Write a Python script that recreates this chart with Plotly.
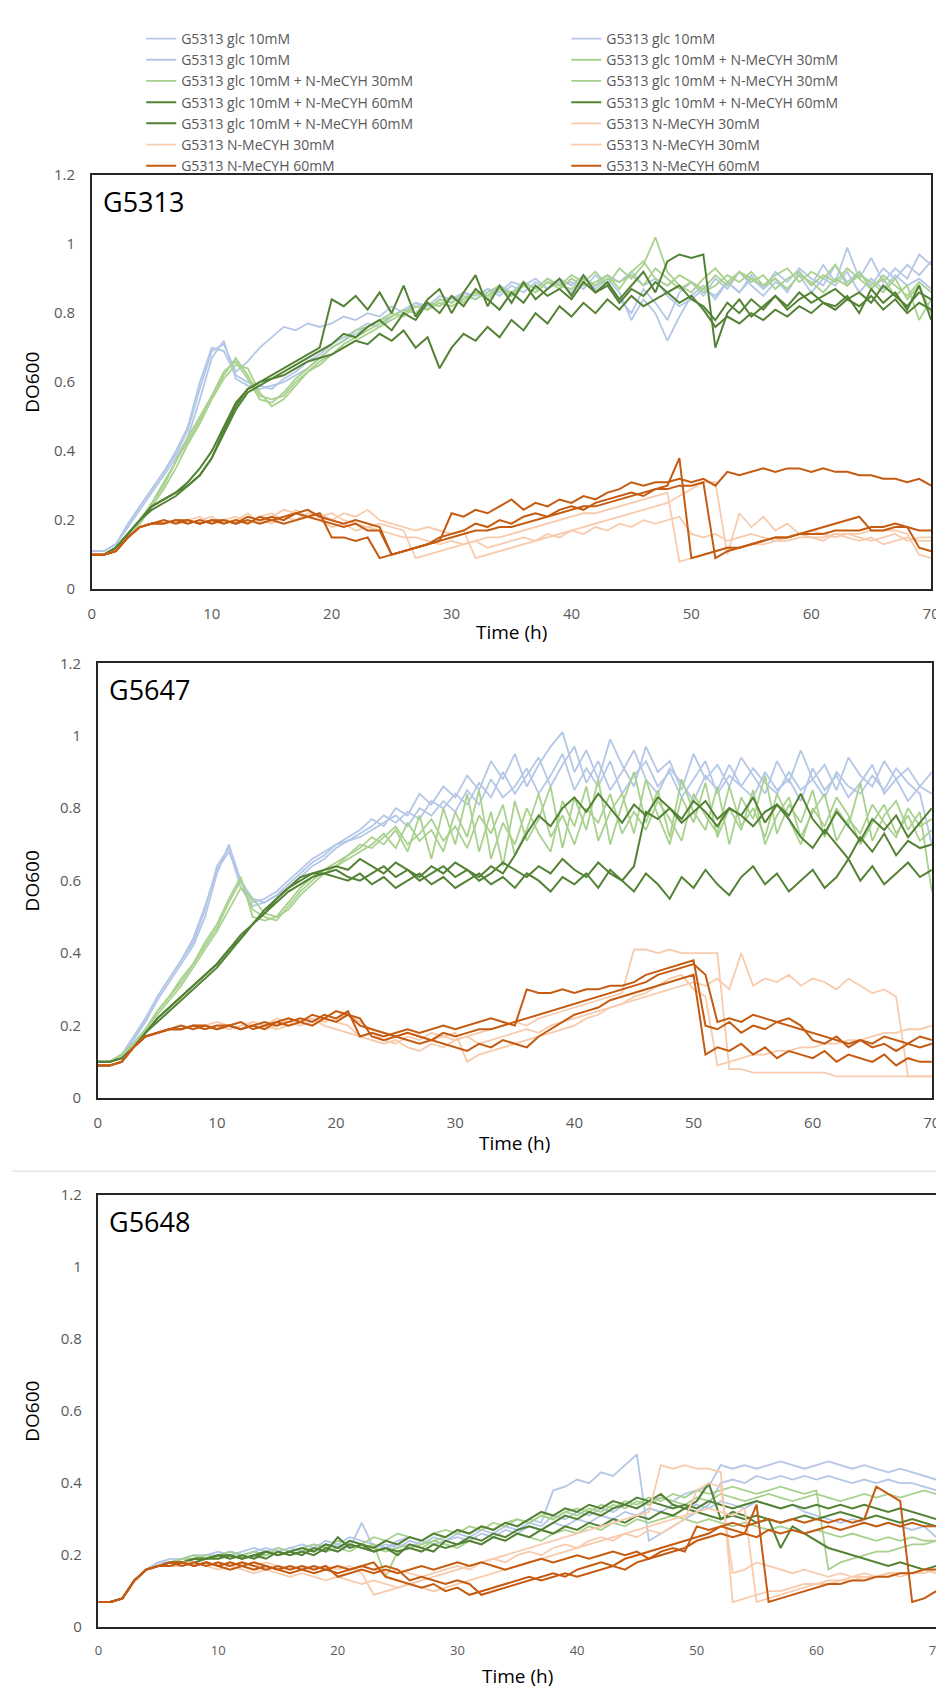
import plotly.graph_objects as go

TIME_H = list(range(71))

# ---------------- G5313 panel ----------------
G5313_GLC_1 = [0.11,0.11,0.13,0.19,0.24,0.29,0.34,0.39,0.46,0.58,
0.69,0.71,0.63,0.66,0.70,0.73,0.76,0.75,0.77,0.76,
0.77,0.79,0.78,0.80,0.79,0.82,0.80,0.83,0.81,0.84,
0.83,0.86,0.84,0.87,0.85,0.88,0.86,0.89,0.87,0.90,
0.88,0.91,0.87,0.90,0.86,0.78,0.84,0.80,0.72,0.79,
0.85,0.88,0.84,0.89,0.86,0.91,0.87,0.90,0.86,0.92,
0.88,0.94,0.89,0.99,0.90,0.96,0.89,0.93,0.90,0.97,
0.94]
G5313_GLC_2 = [0.11,0.11,0.13,0.18,0.23,0.28,0.33,0.38,0.44,0.55,
0.67,0.72,0.61,0.59,0.58,0.59,0.60,0.62,0.64,0.67,
0.70,0.72,0.74,0.76,0.78,0.79,0.81,0.80,0.83,0.82,
0.85,0.84,0.86,0.85,0.88,0.86,0.89,0.87,0.90,0.88,
0.89,0.87,0.91,0.88,0.84,0.80,0.87,0.83,0.78,0.86,
0.89,0.85,0.90,0.87,0.92,0.88,0.85,0.89,0.87,0.91,
0.86,0.90,0.88,0.92,0.86,0.90,0.87,0.91,0.88,0.90,
0.87]
G5313_GLC_3 = [0.11,0.11,0.13,0.18,0.24,0.29,0.34,0.40,0.47,0.60,
0.70,0.69,0.62,0.60,0.59,0.58,0.61,0.63,0.66,0.68,
0.71,0.73,0.75,0.77,0.76,0.79,0.81,0.83,0.82,0.85,
0.84,0.86,0.85,0.87,0.86,0.89,0.88,0.90,0.87,0.89,
0.86,0.90,0.88,0.91,0.89,0.92,0.88,0.90,0.85,0.82,
0.84,0.87,0.85,0.89,0.86,0.90,0.87,0.92,0.89,0.93,
0.90,0.88,0.94,0.89,0.92,0.88,0.93,0.90,0.94,0.91,
0.95]
G5313_M30_1 = [0.10,0.10,0.12,0.16,0.20,0.25,0.30,0.37,0.44,0.50,
0.56,0.63,0.66,0.61,0.55,0.54,0.57,0.61,0.64,0.67,
0.70,0.72,0.75,0.76,0.78,0.80,0.79,0.82,0.81,0.84,
0.83,0.85,0.84,0.86,0.88,0.85,0.89,0.87,0.90,0.88,
0.91,0.89,0.92,0.88,0.93,0.90,0.94,1.02,0.92,0.88,
0.86,0.90,0.93,0.89,0.92,0.90,0.88,0.91,0.93,0.89,
0.92,0.90,0.94,0.88,0.91,0.89,0.86,0.90,0.84,0.88,
0.80]
G5313_M30_2 = [0.10,0.10,0.12,0.15,0.19,0.24,0.29,0.35,0.42,0.48,
0.55,0.61,0.65,0.64,0.57,0.53,0.55,0.59,0.63,0.66,
0.68,0.71,0.73,0.75,0.77,0.79,0.81,0.80,0.83,0.82,
0.85,0.83,0.86,0.84,0.87,0.86,0.88,0.86,0.89,0.87,
0.90,0.88,0.89,0.91,0.87,0.92,0.95,0.90,0.88,0.91,
0.89,0.87,0.91,0.88,0.92,0.89,0.91,0.87,0.90,0.92,
0.88,0.91,0.89,0.93,0.90,0.87,0.91,0.88,0.85,0.89,
0.86]
G5313_M30_3 = [0.10,0.10,0.12,0.16,0.20,0.25,0.31,0.37,0.43,0.49,
0.56,0.62,0.67,0.62,0.56,0.55,0.56,0.60,0.63,0.65,
0.68,0.70,0.72,0.74,0.76,0.78,0.80,0.82,0.81,0.83,
0.82,0.84,0.86,0.85,0.87,0.85,0.88,0.86,0.89,0.88,
0.87,0.90,0.88,0.90,0.89,0.91,0.88,0.93,0.90,0.87,
0.89,0.86,0.88,0.91,0.89,0.92,0.88,0.90,0.87,0.91,
0.89,0.86,0.90,0.88,0.92,0.87,0.90,0.85,0.88,0.78,
0.84]
G5313_M60_1 = [0.10,0.10,0.12,0.16,0.20,0.24,0.26,0.28,0.31,0.35,
0.40,0.47,0.54,0.58,0.60,0.62,0.64,0.66,0.68,0.70,
0.84,0.82,0.85,0.81,0.86,0.80,0.88,0.79,0.84,0.87,
0.80,0.86,0.91,0.82,0.88,0.83,0.89,0.84,0.87,0.90,
0.85,0.91,0.86,0.89,0.84,0.88,0.92,0.86,0.95,0.97,
0.96,0.97,0.70,0.80,0.84,0.79,0.82,0.85,0.81,0.84,
0.86,0.83,0.82,0.85,0.80,0.87,0.83,0.86,0.81,0.88,
0.78]
G5313_M60_2 = [0.10,0.10,0.12,0.16,0.20,0.24,0.26,0.28,0.30,0.33,
0.38,0.45,0.52,0.57,0.59,0.61,0.63,0.65,0.67,0.69,
0.71,0.74,0.73,0.76,0.78,0.75,0.80,0.78,0.83,0.80,
0.85,0.82,0.87,0.84,0.81,0.86,0.83,0.88,0.85,0.87,
0.84,0.89,0.86,0.88,0.83,0.87,0.85,0.89,0.86,0.88,
0.84,0.82,0.78,0.83,0.80,0.84,0.81,0.85,0.82,0.86,
0.83,0.85,0.87,0.84,0.86,0.83,0.88,0.85,0.82,0.86,
0.84]
G5313_M60_3 = [0.10,0.10,0.12,0.16,0.20,0.23,0.25,0.27,0.30,0.33,
0.38,0.46,0.53,0.58,0.60,0.61,0.62,0.64,0.66,0.67,
0.68,0.70,0.72,0.71,0.74,0.72,0.75,0.70,0.73,0.64,
0.70,0.74,0.72,0.76,0.73,0.78,0.75,0.80,0.77,0.82,
0.79,0.83,0.80,0.84,0.81,0.85,0.82,0.84,0.86,0.83,
0.85,0.81,0.76,0.79,0.77,0.80,0.78,0.81,0.79,0.82,
0.80,0.83,0.81,0.84,0.82,0.85,0.81,0.84,0.80,0.83,
0.81]
G5313_N30_1 = [0.10,0.10,0.11,0.15,0.18,0.19,0.19,0.20,0.20,0.19,
0.20,0.19,0.20,0.21,0.20,0.19,0.21,0.20,0.22,0.21,
0.22,0.20,0.19,0.18,0.19,0.18,0.17,0.09,0.10,0.11,
0.12,0.13,0.14,0.15,0.15,0.16,0.17,0.18,0.19,0.20,
0.21,0.22,0.22,0.23,0.24,0.25,0.26,0.27,0.28,0.08,
0.09,0.10,0.11,0.12,0.12,0.13,0.13,0.14,0.14,0.15,
0.15,0.15,0.16,0.16,0.16,0.17,0.17,0.17,0.16,0.10,
0.09]
G5313_N30_2 = [0.10,0.10,0.11,0.15,0.18,0.19,0.20,0.19,0.20,0.21,
0.19,0.20,0.21,0.19,0.21,0.22,0.20,0.23,0.21,0.22,
0.20,0.22,0.21,0.23,0.20,0.19,0.18,0.17,0.18,0.17,
0.16,0.17,0.09,0.10,0.11,0.12,0.13,0.14,0.15,0.16,
0.17,0.18,0.19,0.20,0.21,0.22,0.23,0.24,0.25,0.27,
0.29,0.31,0.31,0.10,0.22,0.18,0.21,0.17,0.19,0.16,
0.17,0.16,0.15,0.16,0.15,0.14,0.15,0.16,0.14,0.15,
0.15]
G5313_N30_3 = [0.10,0.10,0.11,0.15,0.18,0.19,0.19,0.20,0.19,0.20,
0.21,0.19,0.20,0.22,0.19,0.21,0.23,0.22,0.21,0.20,
0.18,0.19,0.17,0.18,0.17,0.16,0.15,0.15,0.14,0.13,
0.14,0.13,0.14,0.12,0.13,0.14,0.15,0.14,0.16,0.15,
0.17,0.16,0.18,0.17,0.19,0.18,0.20,0.19,0.20,0.21,
0.16,0.15,0.16,0.14,0.15,0.16,0.15,0.14,0.15,0.16,
0.15,0.14,0.16,0.15,0.14,0.15,0.13,0.14,0.15,0.14,
0.14]
G5313_N60_1 = [0.10,0.10,0.11,0.15,0.18,0.19,0.19,0.20,0.19,0.20,
0.19,0.20,0.19,0.21,0.20,0.21,0.20,0.22,0.21,0.22,
0.15,0.15,0.14,0.15,0.09,0.10,0.11,0.12,0.13,0.14,
0.15,0.16,0.17,0.17,0.18,0.18,0.19,0.20,0.21,0.22,
0.23,0.24,0.24,0.25,0.26,0.27,0.28,0.29,0.30,0.38,
0.09,0.10,0.11,0.12,0.12,0.13,0.14,0.15,0.15,0.16,
0.16,0.16,0.17,0.17,0.17,0.18,0.18,0.19,0.18,0.17,
0.17]
G5313_N60_2 = [0.10,0.10,0.11,0.15,0.18,0.19,0.20,0.19,0.20,0.19,
0.20,0.19,0.20,0.19,0.21,0.20,0.21,0.22,0.23,0.21,
0.20,0.19,0.20,0.19,0.18,0.10,0.11,0.12,0.13,0.14,
0.22,0.21,0.23,0.22,0.24,0.26,0.23,0.25,0.24,0.26,
0.25,0.27,0.26,0.28,0.29,0.31,0.30,0.31,0.31,0.32,
0.31,0.32,0.30,0.34,0.33,0.34,0.35,0.34,0.35,0.35,
0.34,0.35,0.34,0.34,0.33,0.33,0.32,0.32,0.31,0.32,
0.30]
G5313_N60_3 = [0.10,0.10,0.11,0.15,0.18,0.19,0.19,0.20,0.20,0.19,
0.20,0.20,0.19,0.20,0.19,0.20,0.19,0.20,0.21,0.20,
0.19,0.18,0.19,0.17,0.17,0.10,0.11,0.12,0.13,0.15,
0.16,0.17,0.19,0.18,0.20,0.19,0.21,0.22,0.21,0.23,
0.24,0.23,0.25,0.26,0.27,0.28,0.27,0.29,0.29,0.30,
0.30,0.31,0.09,0.11,0.12,0.13,0.14,0.15,0.15,0.16,
0.17,0.18,0.19,0.20,0.21,0.17,0.17,0.18,0.18,0.12,
0.11]

# ---------------- G5647 panel ----------------
G5647_GLC_1 = [0.10,0.10,0.12,0.16,0.21,0.27,0.32,0.37,0.42,0.50,
0.62,0.70,0.60,0.54,0.55,0.57,0.60,0.63,0.66,0.68,
0.70,0.72,0.74,0.77,0.75,0.80,0.78,0.84,0.81,0.86,
0.83,0.89,0.85,0.93,0.88,0.95,0.86,0.92,0.97,1.01,
0.90,0.96,0.88,0.99,0.92,0.86,0.97,0.90,0.93,0.85,
0.95,0.88,0.92,0.86,0.94,0.89,0.84,0.93,0.87,0.96,
0.88,0.92,0.85,0.94,0.89,0.86,0.93,0.88,0.91,0.86,
0.90]
G5647_GLC_2 = [0.10,0.10,0.12,0.16,0.22,0.28,0.33,0.38,0.43,0.52,
0.64,0.69,0.58,0.53,0.54,0.56,0.59,0.62,0.65,0.67,
0.70,0.71,0.73,0.75,0.78,0.76,0.79,0.77,0.82,0.80,
0.84,0.81,0.87,0.83,0.90,0.84,0.89,0.94,0.86,0.92,
0.97,0.87,0.93,0.85,0.90,0.96,0.88,0.84,0.91,0.87,
0.82,0.89,0.85,0.92,0.86,0.83,0.90,0.85,0.88,0.82,
0.91,0.85,0.89,0.83,0.87,0.92,0.84,0.88,0.82,0.86,
0.84]
G5647_GLC_3 = [0.10,0.10,0.12,0.17,0.22,0.28,0.33,0.38,0.44,0.53,
0.63,0.68,0.60,0.55,0.54,0.56,0.58,0.61,0.64,0.66,
0.69,0.71,0.72,0.74,0.76,0.78,0.75,0.80,0.78,0.82,
0.79,0.85,0.81,0.88,0.83,0.86,0.91,0.84,0.89,0.95,
0.85,0.91,0.86,0.93,0.84,0.89,0.93,0.86,0.90,0.83,
0.88,0.93,0.84,0.89,0.86,0.91,0.87,0.84,0.90,0.85,
0.88,0.83,0.90,0.86,0.84,0.89,0.85,0.91,0.87,0.84,
0.70]
G5647_M30_1 = [0.10,0.10,0.12,0.15,0.19,0.24,0.28,0.32,0.37,0.42,
0.47,0.54,0.60,0.52,0.50,0.49,0.53,0.57,0.60,0.63,
0.65,0.67,0.69,0.72,0.70,0.74,0.68,0.78,0.66,0.80,
0.70,0.84,0.68,0.79,0.64,0.82,0.71,0.77,0.86,0.69,
0.83,0.74,0.88,0.70,0.81,0.90,0.76,0.85,0.72,0.88,
0.79,0.74,0.86,0.70,0.83,0.77,0.89,0.73,0.81,0.76,
0.85,0.72,0.80,0.75,0.87,0.71,0.78,0.82,0.74,0.79,
0.57]
G5647_M30_2 = [0.10,0.10,0.12,0.15,0.19,0.23,0.27,0.31,0.36,0.41,
0.46,0.52,0.58,0.55,0.51,0.50,0.52,0.56,0.59,0.62,
0.64,0.66,0.68,0.70,0.73,0.69,0.76,0.71,0.74,0.68,
0.79,0.72,0.85,0.66,0.76,0.70,0.80,0.73,0.68,0.82,
0.75,0.86,0.71,0.79,0.84,0.73,0.88,0.78,0.70,0.83,
0.76,0.87,0.72,0.80,0.74,0.85,0.70,0.78,0.83,0.72,
0.79,0.84,0.71,0.77,0.73,0.81,0.76,0.72,0.80,0.75,
0.77]
G5647_M30_3 = [0.10,0.10,0.12,0.15,0.19,0.24,0.28,0.33,0.37,0.43,
0.48,0.55,0.61,0.50,0.49,0.50,0.54,0.58,0.61,0.63,
0.64,0.67,0.70,0.69,0.72,0.75,0.70,0.73,0.77,0.71,
0.75,0.69,0.78,0.73,0.81,0.67,0.74,0.84,0.72,0.78,
0.70,0.80,0.76,0.84,0.73,0.79,0.74,0.82,0.77,0.71,
0.84,0.78,0.73,0.86,0.75,0.80,0.72,0.84,0.77,0.70,
0.80,0.75,0.83,0.78,0.70,0.76,0.81,0.73,0.78,0.71,
0.74]
G5647_M60_1 = [0.10,0.10,0.11,0.14,0.18,0.22,0.25,0.28,0.31,0.34,
0.37,0.41,0.45,0.48,0.51,0.55,0.58,0.61,0.62,0.63,
0.64,0.63,0.66,0.64,0.62,0.65,0.63,0.61,0.64,0.62,
0.65,0.63,0.61,0.64,0.62,0.67,0.73,0.78,0.75,0.80,
0.83,0.79,0.84,0.80,0.76,0.81,0.78,0.83,0.80,0.77,
0.82,0.79,0.75,0.80,0.78,0.83,0.76,0.81,0.78,0.84,
0.77,0.73,0.79,0.75,0.71,0.77,0.74,0.78,0.72,0.76,
0.80]
G5647_M60_2 = [0.10,0.10,0.11,0.14,0.18,0.22,0.25,0.28,0.31,0.34,
0.37,0.41,0.44,0.48,0.52,0.55,0.58,0.60,0.62,0.62,
0.63,0.61,0.60,0.62,0.64,0.61,0.63,0.60,0.62,0.64,
0.61,0.63,0.60,0.62,0.65,0.63,0.61,0.64,0.62,0.66,
0.63,0.61,0.65,0.62,0.60,0.64,0.79,0.77,0.80,0.76,
0.79,0.82,0.77,0.80,0.78,0.75,0.79,0.81,0.77,0.72,
0.69,0.74,0.70,0.66,0.72,0.68,0.73,0.67,0.71,0.69,
0.70]
G5647_M60_3 = [0.10,0.10,0.11,0.14,0.18,0.21,0.24,0.27,0.30,0.33,
0.36,0.40,0.44,0.48,0.51,0.54,0.57,0.59,0.61,0.62,
0.61,0.60,0.62,0.59,0.61,0.58,0.60,0.62,0.59,0.61,
0.58,0.60,0.62,0.59,0.61,0.58,0.62,0.60,0.57,0.61,
0.59,0.62,0.58,0.63,0.60,0.57,0.62,0.59,0.55,0.61,
0.58,0.63,0.59,0.56,0.61,0.64,0.59,0.62,0.57,0.60,
0.63,0.58,0.61,0.66,0.60,0.64,0.59,0.62,0.65,0.61,
0.63]
G5647_N30_1 = [0.09,0.09,0.10,0.14,0.17,0.18,0.19,0.19,0.20,0.19,
0.20,0.19,0.20,0.21,0.20,0.19,0.20,0.21,0.22,0.21,
0.22,0.23,0.21,0.19,0.18,0.17,0.18,0.17,0.16,0.17,
0.16,0.17,0.18,0.19,0.20,0.21,0.20,0.22,0.23,0.24,
0.25,0.26,0.27,0.28,0.29,0.41,0.41,0.40,0.41,0.40,
0.40,0.40,0.40,0.08,0.08,0.07,0.07,0.07,0.07,0.07,
0.07,0.07,0.06,0.06,0.06,0.06,0.06,0.06,0.06,0.06,
0.06]
G5647_N30_2 = [0.09,0.09,0.10,0.14,0.17,0.18,0.19,0.20,0.19,0.20,
0.21,0.20,0.19,0.21,0.20,0.22,0.21,0.20,0.21,0.22,
0.21,0.20,0.17,0.18,0.16,0.15,0.17,0.16,0.18,0.17,
0.18,0.10,0.12,0.13,0.14,0.15,0.16,0.17,0.18,0.19,
0.20,0.22,0.23,0.25,0.26,0.27,0.28,0.29,0.30,0.31,
0.32,0.31,0.33,0.30,0.40,0.31,0.33,0.32,0.34,0.31,
0.33,0.32,0.30,0.33,0.31,0.29,0.30,0.28,0.06,0.06,
0.06]
G5647_N30_3 = [0.09,0.09,0.10,0.14,0.17,0.18,0.19,0.19,0.20,0.20,
0.19,0.20,0.21,0.20,0.19,0.20,0.22,0.21,0.22,0.20,
0.19,0.18,0.17,0.16,0.15,0.16,0.14,0.13,0.15,0.14,
0.16,0.17,0.15,0.16,0.17,0.18,0.19,0.18,0.20,0.21,
0.22,0.23,0.24,0.25,0.26,0.28,0.29,0.31,0.33,0.34,
0.30,0.28,0.09,0.10,0.11,0.12,0.12,0.13,0.13,0.14,
0.14,0.15,0.15,0.16,0.16,0.17,0.18,0.18,0.19,0.19,
0.20]
G5647_N60_1 = [0.09,0.09,0.10,0.14,0.17,0.18,0.19,0.19,0.20,0.19,
0.20,0.20,0.19,0.20,0.21,0.20,0.21,0.22,0.21,0.23,
0.22,0.24,0.17,0.18,0.17,0.18,0.19,0.18,0.19,0.20,
0.19,0.20,0.21,0.22,0.21,0.20,0.30,0.29,0.29,0.30,
0.29,0.30,0.30,0.31,0.31,0.32,0.34,0.35,0.36,0.37,
0.38,0.20,0.19,0.21,0.18,0.20,0.19,0.21,0.20,0.19,
0.18,0.17,0.16,0.15,0.16,0.14,0.15,0.13,0.15,0.14,
0.15]
G5647_N60_2 = [0.09,0.09,0.10,0.14,0.17,0.18,0.19,0.20,0.19,0.20,
0.19,0.20,0.21,0.19,0.20,0.21,0.22,0.21,0.23,0.22,
0.24,0.23,0.22,0.17,0.16,0.17,0.18,0.17,0.16,0.18,
0.17,0.18,0.19,0.19,0.20,0.21,0.22,0.23,0.24,0.25,
0.26,0.27,0.28,0.29,0.30,0.31,0.32,0.34,0.35,0.36,
0.37,0.34,0.21,0.22,0.21,0.23,0.22,0.21,0.22,0.20,
0.16,0.15,0.17,0.14,0.16,0.15,0.17,0.16,0.15,0.17,
0.16]
G5647_N60_3 = [0.09,0.09,0.10,0.14,0.17,0.18,0.19,0.19,0.20,0.20,
0.19,0.20,0.19,0.20,0.19,0.21,0.20,0.21,0.20,0.22,
0.21,0.23,0.20,0.19,0.18,0.17,0.16,0.15,0.16,0.15,
0.14,0.13,0.15,0.14,0.16,0.15,0.14,0.17,0.19,0.21,
0.23,0.24,0.25,0.27,0.28,0.29,0.30,0.31,0.32,0.33,
0.34,0.12,0.14,0.13,0.15,0.12,0.14,0.11,0.13,0.12,
0.11,0.13,0.10,0.12,0.11,0.10,0.12,0.09,0.11,0.10,
0.10]

# ---------------- G5648 panel ----------------
G5648_GLC_1 = [0.07,0.07,0.08,0.13,0.16,0.18,0.18,0.19,0.19,0.20,
0.20,0.21,0.20,0.21,0.22,0.21,0.22,0.23,0.22,0.24,
0.23,0.25,0.24,0.23,0.22,0.24,0.25,0.24,0.26,0.25,
0.27,0.26,0.28,0.27,0.29,0.28,0.30,0.29,0.38,0.39,
0.41,0.40,0.43,0.42,0.45,0.48,0.24,0.26,0.28,0.30,
0.32,0.34,0.40,0.41,0.40,0.42,0.41,0.42,0.41,0.42,
0.41,0.42,0.41,0.40,0.41,0.40,0.41,0.40,0.40,0.39,
0.38]
G5648_GLC_2 = [0.07,0.07,0.08,0.13,0.16,0.18,0.19,0.19,0.20,0.20,
0.21,0.20,0.21,0.22,0.21,0.22,0.21,0.22,0.23,0.22,
0.23,0.22,0.29,0.22,0.23,0.22,0.24,0.23,0.25,0.24,
0.26,0.25,0.27,0.26,0.28,0.27,0.29,0.28,0.31,0.30,
0.32,0.31,0.33,0.32,0.34,0.33,0.35,0.36,0.35,0.37,
0.38,0.39,0.45,0.44,0.45,0.44,0.45,0.46,0.45,0.44,
0.45,0.46,0.45,0.44,0.45,0.44,0.43,0.44,0.43,0.42,
0.41]
G5648_GLC_3 = [0.07,0.07,0.08,0.13,0.16,0.18,0.18,0.19,0.20,0.19,
0.20,0.21,0.20,0.21,0.20,0.21,0.22,0.21,0.22,0.23,
0.22,0.23,0.22,0.21,0.22,0.23,0.22,0.24,0.23,0.24,
0.25,0.24,0.26,0.25,0.27,0.26,0.28,0.27,0.29,0.28,
0.30,0.29,0.31,0.30,0.32,0.31,0.33,0.32,0.34,0.33,
0.34,0.33,0.35,0.34,0.33,0.35,0.34,0.33,0.34,0.32,
0.31,0.30,0.29,0.30,0.29,0.28,0.29,0.28,0.27,0.28,
0.25]
G5648_M30_1 = [0.07,0.07,0.08,0.13,0.16,0.17,0.18,0.19,0.19,0.20,
0.19,0.20,0.19,0.20,0.21,0.20,0.21,0.22,0.21,0.23,
0.22,0.24,0.23,0.25,0.24,0.26,0.25,0.24,0.26,0.27,
0.26,0.28,0.27,0.29,0.28,0.30,0.29,0.31,0.30,0.32,
0.31,0.33,0.32,0.34,0.33,0.35,0.34,0.36,0.35,0.34,
0.36,0.35,0.37,0.36,0.35,0.36,0.37,0.36,0.35,0.36,
0.37,0.36,0.35,0.36,0.37,0.36,0.37,0.36,0.37,0.38,
0.37]
G5648_M30_2 = [0.07,0.07,0.08,0.13,0.16,0.17,0.18,0.19,0.20,0.19,
0.20,0.21,0.20,0.21,0.20,0.22,0.21,0.22,0.23,0.22,
0.24,0.23,0.22,0.23,0.14,0.21,0.22,0.23,0.24,0.25,
0.27,0.26,0.28,0.27,0.29,0.30,0.29,0.31,0.30,0.32,
0.33,0.32,0.34,0.33,0.35,0.34,0.36,0.35,0.37,0.36,
0.38,0.37,0.38,0.39,0.38,0.37,0.38,0.39,0.38,0.37,
0.38,0.16,0.18,0.19,0.20,0.21,0.21,0.22,0.23,0.23,
0.24]
G5648_M30_3 = [0.07,0.07,0.08,0.13,0.16,0.17,0.18,0.18,0.19,0.19,
0.20,0.19,0.20,0.19,0.20,0.21,0.20,0.21,0.22,0.21,
0.22,0.21,0.23,0.22,0.21,0.22,0.23,0.22,0.24,0.23,
0.22,0.24,0.23,0.25,0.24,0.26,0.25,0.24,0.26,0.27,
0.26,0.28,0.27,0.29,0.28,0.30,0.29,0.30,0.31,0.30,
0.29,0.30,0.29,0.28,0.29,0.28,0.27,0.28,0.27,0.26,
0.27,0.26,0.25,0.26,0.25,0.24,0.25,0.24,0.25,0.24,
0.24]
G5648_M60_1 = [0.07,0.07,0.08,0.13,0.16,0.17,0.18,0.18,0.19,0.19,
0.20,0.19,0.20,0.19,0.21,0.20,0.21,0.20,0.22,0.21,
0.25,0.22,0.23,0.21,0.22,0.20,0.23,0.22,0.21,0.24,
0.23,0.25,0.24,0.26,0.25,0.27,0.28,0.27,0.29,0.31,
0.30,0.32,0.31,0.33,0.34,0.33,0.35,0.37,0.34,0.33,
0.35,0.40,0.30,0.32,0.31,0.29,0.30,0.22,0.28,0.26,
0.24,0.22,0.21,0.20,0.19,0.18,0.17,0.18,0.17,0.16,
0.17]
G5648_M60_2 = [0.07,0.07,0.08,0.13,0.16,0.17,0.18,0.18,0.19,0.19,
0.20,0.20,0.19,0.20,0.21,0.20,0.21,0.22,0.21,0.23,
0.22,0.24,0.23,0.22,0.24,0.23,0.25,0.24,0.26,0.25,
0.27,0.26,0.28,0.27,0.29,0.28,0.30,0.32,0.31,0.33,
0.32,0.34,0.33,0.35,0.34,0.36,0.35,0.34,0.33,0.34,
0.33,0.35,0.34,0.33,0.34,0.35,0.34,0.33,0.34,0.33,
0.34,0.33,0.34,0.33,0.34,0.33,0.32,0.33,0.32,0.31,
0.30]
G5648_M60_3 = [0.07,0.07,0.08,0.13,0.16,0.17,0.18,0.18,0.18,0.19,
0.19,0.20,0.19,0.20,0.19,0.21,0.20,0.21,0.20,0.22,
0.21,0.23,0.22,0.21,0.22,0.21,0.22,0.21,0.23,0.22,
0.23,0.24,0.23,0.25,0.24,0.26,0.25,0.27,0.26,0.28,
0.27,0.29,0.28,0.30,0.29,0.31,0.30,0.32,0.31,0.33,
0.32,0.31,0.30,0.31,0.30,0.31,0.30,0.29,0.30,0.31,
0.30,0.31,0.32,0.31,0.30,0.31,0.30,0.29,0.30,0.29,
0.28]
G5648_N30_1 = [0.07,0.07,0.08,0.13,0.16,0.17,0.17,0.18,0.18,0.17,
0.18,0.17,0.18,0.17,0.18,0.17,0.16,0.17,0.16,0.17,
0.16,0.17,0.15,0.09,0.10,0.11,0.12,0.13,0.14,0.15,
0.16,0.17,0.18,0.19,0.20,0.21,0.22,0.23,0.24,0.25,
0.26,0.27,0.28,0.29,0.30,0.31,0.32,0.45,0.44,0.45,
0.44,0.44,0.43,0.07,0.08,0.09,0.10,0.10,0.11,0.12,
0.12,0.13,0.13,0.14,0.14,0.14,0.15,0.15,0.15,0.16,
0.15]
G5648_N30_2 = [0.07,0.07,0.08,0.13,0.16,0.17,0.17,0.18,0.17,0.18,
0.17,0.18,0.17,0.16,0.17,0.16,0.17,0.16,0.17,0.16,
0.17,0.16,0.17,0.16,0.15,0.16,0.15,0.14,0.15,0.16,
0.17,0.16,0.18,0.19,0.18,0.20,0.21,0.20,0.22,0.23,
0.22,0.24,0.25,0.24,0.26,0.25,0.27,0.26,0.28,0.30,
0.38,0.40,0.39,0.15,0.16,0.18,0.17,0.16,0.15,0.16,
0.15,0.14,0.15,0.14,0.15,0.14,0.15,0.14,0.15,0.15,
0.16]
G5648_N30_3 = [0.07,0.07,0.08,0.13,0.16,0.17,0.17,0.17,0.18,0.17,
0.16,0.17,0.16,0.15,0.16,0.15,0.14,0.15,0.14,0.13,
0.14,0.13,0.12,0.13,0.12,0.11,0.12,0.11,0.10,0.11,
0.12,0.13,0.14,0.15,0.16,0.17,0.18,0.19,0.20,0.21,
0.22,0.23,0.24,0.25,0.26,0.27,0.28,0.29,0.30,0.31,
0.32,0.33,0.32,0.31,0.33,0.07,0.08,0.09,0.10,0.11,
0.12,0.12,0.13,0.13,0.14,0.14,0.15,0.15,0.15,0.16,
0.15]
G5648_N60_1 = [0.07,0.07,0.08,0.13,0.16,0.17,0.18,0.17,0.18,0.17,
0.18,0.17,0.18,0.17,0.16,0.17,0.16,0.17,0.16,0.17,
0.14,0.15,0.16,0.15,0.16,0.15,0.16,0.17,0.16,0.17,
0.18,0.17,0.18,0.17,0.16,0.17,0.18,0.19,0.18,0.19,
0.20,0.19,0.20,0.21,0.20,0.21,0.19,0.21,0.22,0.21,
0.28,0.27,0.28,0.29,0.28,0.29,0.30,0.29,0.30,0.29,
0.30,0.29,0.30,0.29,0.30,0.39,0.37,0.35,0.07,0.08,
0.10]
G5648_N60_2 = [0.07,0.07,0.08,0.13,0.16,0.17,0.18,0.18,0.17,0.18,
0.17,0.18,0.17,0.18,0.17,0.16,0.17,0.16,0.17,0.16,
0.17,0.16,0.17,0.18,0.14,0.13,0.12,0.11,0.12,0.10,
0.11,0.09,0.10,0.11,0.12,0.13,0.14,0.13,0.14,0.15,
0.14,0.15,0.16,0.17,0.16,0.18,0.19,0.20,0.21,0.22,
0.24,0.25,0.26,0.25,0.26,0.34,0.07,0.08,0.09,0.10,
0.11,0.12,0.12,0.13,0.13,0.14,0.14,0.15,0.15,0.16,
0.16]
G5648_N60_3 = [0.07,0.07,0.08,0.13,0.16,0.17,0.17,0.18,0.17,0.18,
0.17,0.16,0.17,0.16,0.17,0.16,0.15,0.16,0.15,0.16,
0.15,0.16,0.17,0.16,0.17,0.16,0.13,0.14,0.13,0.12,
0.13,0.12,0.09,0.10,0.11,0.12,0.13,0.14,0.15,0.14,
0.16,0.17,0.18,0.17,0.19,0.20,0.21,0.22,0.23,0.24,
0.25,0.26,0.28,0.27,0.26,0.25,0.27,0.26,0.27,0.26,
0.27,0.28,0.27,0.28,0.29,0.28,0.29,0.28,0.29,0.28,
0.28]

LEGEND_LABELS = ["G5313 glc 10mM", "G5313 glc 10mM", "G5313 glc 10mM",
                 "G5313 glc 10mM + N-MeCYH 30mM", "G5313 glc 10mM + N-MeCYH 30mM", "G5313 glc 10mM + N-MeCYH 30mM",
                 "G5313 glc 10mM + N-MeCYH 60mM", "G5313 glc 10mM + N-MeCYH 60mM", "G5313 glc 10mM + N-MeCYH 60mM",
                 "G5313 N-MeCYH 30mM", "G5313 N-MeCYH 30mM", "G5313 N-MeCYH 30mM",
                 "G5313 N-MeCYH 60mM", "G5313 N-MeCYH 60mM", "G5313 N-MeCYH 60mM"]
PANEL_NAMES = ["G5313", "G5647", "G5648"]
X_TICKS = [0, 10, 20, 30, 40, 50, 60, 70]

BLUE, LGREEN, DGREEN, LORANGE, DORANGE = "#B4C7E7", "#A9D18E", "#548235", "#F8CBAD", "#C55A11"
COLORS = [BLUE]*3 + [LGREEN]*3 + [DGREEN]*3 + [LORANGE]*3 + [DORANGE]*3
WIDTHS = [1.8]*3 + [1.8]*3 + [2.0]*3 + [1.8]*3 + [2.0]*3

PANEL_SERIES = [
    [G5313_GLC_1, G5313_GLC_2, G5313_GLC_3, G5313_M30_1, G5313_M30_2, G5313_M30_3,
     G5313_M60_1, G5313_M60_2, G5313_M60_3, G5313_N30_1, G5313_N30_2, G5313_N30_3,
     G5313_N60_1, G5313_N60_2, G5313_N60_3],
    [G5647_GLC_1, G5647_GLC_2, G5647_GLC_3, G5647_M30_1, G5647_M30_2, G5647_M30_3,
     G5647_M60_1, G5647_M60_2, G5647_M60_3, G5647_N30_1, G5647_N30_2, G5647_N30_3,
     G5647_N60_1, G5647_N60_2, G5647_N60_3],
    [G5648_GLC_1, G5648_GLC_2, G5648_GLC_3, G5648_M30_1, G5648_M30_2, G5648_M30_3,
     G5648_M60_1, G5648_M60_2, G5648_M60_3, G5648_N30_1, G5648_N30_2, G5648_N30_3,
     G5648_N60_1, G5648_N60_2, G5648_N60_3],
]

W, H = 944, 1689
# plot-area boxes in pixels: (left, right, top, bottom)
BOXES = [(81, 932, 158, 577), (87, 932.7, 652, 1092), (87.7, 937, 1190, 1627.5)]
XTITLE_Y = [620, 1137, 1677]
XTICK_SIZE = [15, 15, 13]

FONT = "Open Sans, Noto Sans, sans-serif"

fig = go.Figure()
for p, series in enumerate(PANEL_SERIES):
    ax = "" if p == 0 else str(p + 1)
    for i, ys in enumerate(series):
        show = (p == 0 and i < 14)
        fig.add_trace(go.Scatter(
            x=TIME_H, y=ys, mode="lines",
            name=LEGEND_LABELS[i].replace("G5313", PANEL_NAMES[p]) if p else LEGEND_LABELS[i],
            line=dict(color=COLORS[i], width=WIDTHS[i]),
            xaxis="x" + ax, yaxis="y" + ax,
            showlegend=show,
            legend=("legend" if i % 2 == 0 else "legend2"),
            hoverinfo="skip"))

layout = dict(
    width=W, height=H, margin=dict(l=0, r=0, t=0, b=0),
    paper_bgcolor="white", plot_bgcolor="white",
    font=dict(family=FONT, color="#595959"),
    legend=dict(x=131 / W, y=1 - 4 / H, xanchor="left", yanchor="top",
                font=dict(size=14, color="#595959", family=FONT),
                itemwidth=30, tracegroupgap=0, bgcolor="rgba(0,0,0,0)"),
    legend2=dict(x=562 / W, y=1 - 4 / H, xanchor="left", yanchor="top",
                 font=dict(size=14, color="#595959", family=FONT),
                 itemwidth=30, tracegroupgap=0, bgcolor="rgba(0,0,0,0)"),
    showlegend=True,
)
annotations = []
shapes = []
for p, (l, r, t, b) in enumerate(BOXES):
    ax = "" if p == 0 else str(p + 1)
    layout["xaxis" + ax] = dict(
        domain=[l / W, r / W], range=[0, 70], anchor="y" + ax,
        tickvals=X_TICKS, showgrid=False, zeroline=False,
        showline=True, mirror=True, linecolor="#262626", linewidth=1.5,
        ticks="", ticklabelstandoff=10, ticklabeloverflow="allow",
        tickfont=dict(size=XTICK_SIZE[p], color="#595959", family=FONT), fixedrange=True)
    layout["yaxis" + ax] = dict(
        domain=[1 - b / H, 1 - t / H], range=[0, 1.2], anchor="x" + ax,
        dtick=0.2, tick0=0, showgrid=False, zeroline=False,
        showline=True, mirror=True, linecolor="#262626", linewidth=1.5,
        ticks="", ticklabelstandoff=12,
        tickfont=dict(size=15, color="#595959", family=FONT), fixedrange=True)
    annotations.append(dict(
        text=PANEL_NAMES[p], xref="paper", yref="paper",
        x=(l + 9) / W, y=1 - (t + 27) / H, xanchor="left", yanchor="middle",
        showarrow=False, font=dict(size=27, color="black", family=FONT)))
    annotations.append(dict(
        text="DO600", xref="paper", yref="paper", textangle=-90,
        x=20 / W, y=1 - ((t + b) / 2) / H, xanchor="center", yanchor="middle",
        showarrow=False, font=dict(size=19, color="black", family=FONT)))
    annotations.append(dict(
        text="Time (h)", xref="paper", yref="paper",
        x=((l + r) / 2) / W, y=1 - XTITLE_Y[p] / H, xanchor="center", yanchor="middle",
        showarrow=False, font=dict(size=19, color="black", family=FONT)))

shapes.append(dict(type="line", xref="paper", yref="paper",
                   x0=0, x1=1, y0=1 - 1166 / H, y1=1 - 1166 / H,
                   line=dict(color="#D9D9D9", width=1)))
layout["annotations"] = annotations
layout["shapes"] = shapes
fig.update_layout(**layout)
fig.write_html("out.html")
